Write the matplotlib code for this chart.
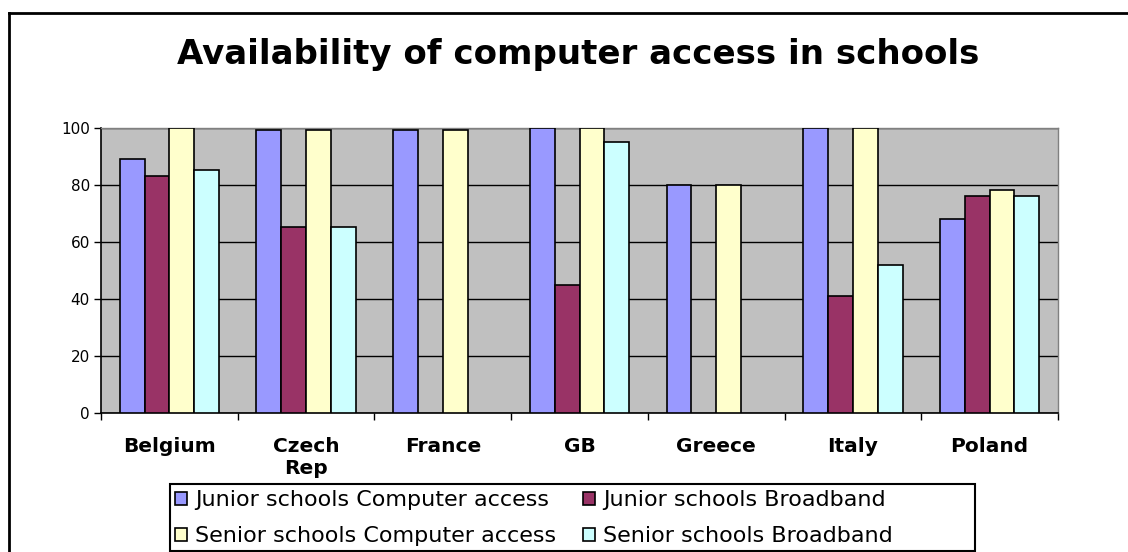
import matplotlib
matplotlib.use('Agg')
import matplotlib.pyplot as plt
import numpy as np
from matplotlib.patches import Rectangle
from matplotlib.lines import Line2D

countries = ['Belgium', 'Czech\nRep', 'France', 'GB', 'Greece', 'Italy', 'Poland']
series_names = ['Junior schools Computer access', 'Junior schools Broadband',
                'Senior schools Computer access', 'Senior schools Broadband']
junior_access = [89, 99, 99, 100, 80, 100, 68]
junior_broadband = [83, 65, np.nan, 45, np.nan, 41, 76]
senior_access = [100, 99, 99, 100, 80, 100, 78]
senior_broadband = [85, 65, np.nan, 95, np.nan, 52, 76]
y_ticks = [0, 20, 40, 60, 80, 100]

colors = ['#9999FF', '#993366', '#FFFFCC', '#CCFFFF']
W, H = 1128, 552

fig = plt.figure(figsize=(W / 100, H / 100), dpi=100)
fig.patch.set_facecolor('white')

# plot area in pixel terms
left, right, top, bottom = 101, 1058, 127.5, 413
ax = fig.add_axes([left / W, 1 - bottom / H, (right - left) / W, (bottom - top) / H])
ax.set_facecolor('#C0C0C0')

all_series = [junior_access, junior_broadband, senior_access, senior_broadband]
n = len(countries)
idx = np.arange(n)
bar_w = 1 / 5.5
handles = []
for j, (vals, c) in enumerate(zip(all_series, colors)):
    bars = ax.bar(idx + (0.75 + j) / 5.5, vals, bar_w, align='edge', color=c,
                  edgecolor='black', linewidth=1.2, zorder=3)
    handles.append(bars)

ax.set_xlim(0, n)
ax.set_ylim(0, 100)
ax.set_yticks(y_ticks)
ax.yaxis.grid(True, color='black', linewidth=1, zorder=1)
ax.set_axisbelow(True)
ax.tick_params(axis='y', direction='out', length=5, width=1, pad=3, labelsize=11)

ax.set_xticks(np.arange(n + 1))
ax.set_xticklabels([])
ax.tick_params(axis='x', which='major', direction='out', length=5, width=1)
ax.set_xticks(idx + 0.5, minor=True)
ax.set_xticklabels(countries, minor=True, fontsize=14.5, fontweight='bold', linespacing=1.25)
ax.tick_params(axis='x', which='minor', length=0, pad=17)

for s in ['top', 'right']:
    ax.spines[s].set_color('#808080')
    ax.spines[s].set_linewidth(1)
for s in ['left', 'bottom']:
    ax.spines[s].set_color('black')
    ax.spines[s].set_linewidth(1.2)

fig.text(578 / W, 1 - 64.3 / H, 'Availability of computer access in schools',
         ha='center', va='baseline', fontsize=24.5, fontweight='bold')

# chart border (cut off at right and bottom)
fig.add_artist(Line2D([9 / W, 1], [1 - 13 / H, 1 - 13 / H], color='black', linewidth=2))
fig.add_artist(Line2D([9 / W, 9 / W], [0, 1 - 13 / H], color='black', linewidth=2))

# legend box, entries filled row by row
fig.add_artist(Rectangle((170 / W, 1 - 551 / H), (975 - 170) / W, (551 - 484) / H,
                         transform=fig.transFigure, facecolor='white',
                         edgecolor='black', linewidth=1.5))
order = [0, 2, 1, 3]
fig.legend([handles[i] for i in order], [series_names[i] for i in order], ncol=2,
           loc='upper left', bbox_to_anchor=(173 / W, 1 - 488 / H), frameon=False,
           fontsize=16, handlelength=0.55, handleheight=0.55, handletextpad=0.35,
           columnspacing=1.2, labelspacing=0.72, borderpad=0.1, borderaxespad=0)

fig.savefig('out.png', dpi=100, facecolor='white')
